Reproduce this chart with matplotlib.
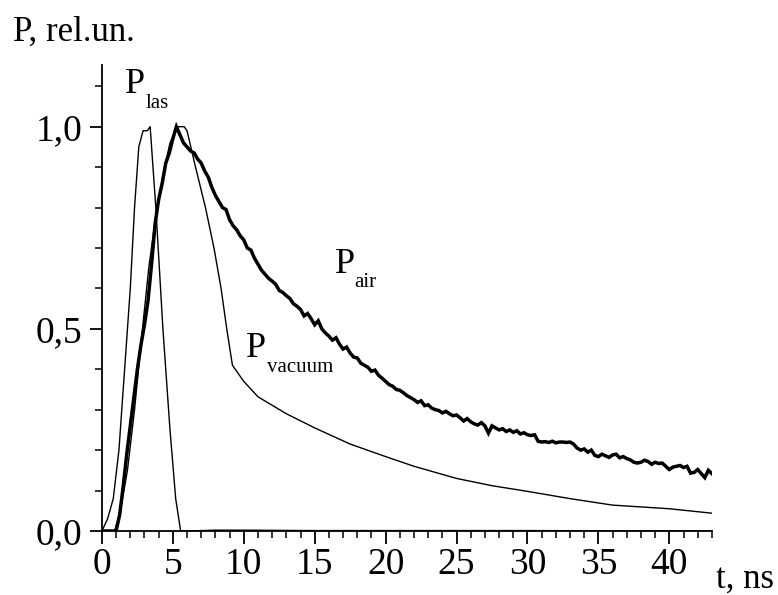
import numpy as np
import matplotlib
matplotlib.use("Agg")
import matplotlib.pyplot as plt
from matplotlib.ticker import MultipleLocator, FuncFormatter

plt.rcParams["font.family"] = ["Liberation Serif", "DejaVu Serif"]

# ---- data ----
# laser pulse
t_las = [0.0, 0.4, 0.8, 1.2, 1.6, 2.0, 2.3, 2.6, 2.9, 3.2, 3.4, 3.8, 4.3, 4.8, 5.2, 5.55,
         6.0, 8.0, 10.0, 15.0, 20.0, 30.0, 43.0]
p_las = [0.0, 0.03, 0.08, 0.2, 0.4, 0.6, 0.8, 0.95, 0.99, 0.99, 1.0, 0.8, 0.5, 0.25, 0.08, 0.0,
         0.0, 0.002, 0.002, 0.001, 0.001, 0.001, 0.0]

# emission in vacuum
t_vac = [0.9, 1.3, 1.8, 2.3, 2.8, 3.3, 3.8, 4.3, 4.8, 5.3, 5.8, 6.0, 6.6, 7.3, 7.9, 8.4, 8.8,
         9.2, 10.0, 11.0, 13.0, 15.0, 17.5, 20.0, 22.0, 25.0, 27.5, 30.0, 33.0, 36.0, 40.0, 43.0]
p_vac = [0.0, 0.05, 0.15, 0.3, 0.48, 0.65, 0.78, 0.88, 0.96, 1.0, 1.0, 0.99, 0.9, 0.8, 0.7, 0.6, 0.5,
         0.41, 0.37, 0.332, 0.29, 0.255, 0.215, 0.184, 0.16, 0.13, 0.112, 0.098, 0.08, 0.064, 0.055, 0.044]

# emission in air, sampled every 0.25 ns from 0
AIR_T0, AIR_DT = 0.0, 0.25
p_air = [
    0.0, 0.0, 0.0, 0.0,
    0.00, 0.04, 0.11, 0.19, 0.26, 0.33, 0.40, 0.46,
    0.51, 0.57, 0.66, 0.76, 0.82, 0.86, 0.91, 0.935,
    0.97, 1.00, 0.98, 0.96, 0.95, 0.94, 0.935, 0.92,
    0.91, 0.89, 0.875, 0.85, 0.83, 0.815, 0.80, 0.795,
    0.77, 0.755, 0.745, 0.73, 0.72, 0.70, 0.695, 0.675,
    0.66, 0.645, 0.635, 0.625, 0.618, 0.61, 0.595, 0.59,
    0.582, 0.575, 0.562, 0.556, 0.548, 0.532, 0.538, 0.525,
    0.51, 0.52, 0.50, 0.49, 0.482, 0.472, 0.478, 0.462,
    0.45, 0.455, 0.44, 0.43, 0.428, 0.415, 0.41, 0.405,
    0.395, 0.398, 0.385, 0.378, 0.37, 0.362, 0.358, 0.35,
    0.348, 0.342, 0.335, 0.33, 0.325, 0.318, 0.322, 0.31,
    0.312, 0.304, 0.30, 0.298, 0.292, 0.296, 0.29, 0.285,
    0.287, 0.28, 0.272, 0.278, 0.27, 0.265, 0.262, 0.268,
    0.26, 0.242, 0.26, 0.255, 0.25, 0.253, 0.246, 0.25,
    0.244, 0.248, 0.24, 0.243, 0.238, 0.236, 0.238, 0.222,
    0.22, 0.221, 0.219, 0.222, 0.218, 0.22, 0.22, 0.219,
    0.22, 0.215, 0.205, 0.20, 0.203, 0.195, 0.20, 0.187,
    0.184, 0.19, 0.186, 0.182, 0.188, 0.19, 0.181, 0.184,
    0.179, 0.176, 0.17, 0.168, 0.17, 0.175, 0.172, 0.165,
    0.17, 0.167, 0.168, 0.16, 0.152, 0.158, 0.16, 0.162,
    0.157, 0.16, 0.143, 0.145, 0.152, 0.142, 0.132, 0.15,
    0.142,
]
t_air = AIR_T0 + AIR_DT * np.arange(len(p_air))

fig = plt.figure(figsize=(7.78, 5.95), dpi=100)
ax = fig.add_axes([0.131, 0.1076, 0.784, 0.7834])

ax.plot(t_las, p_las, color="black", lw=1.0)
ax.plot(t_vac, p_vac, color="black", lw=1.0)
ax.plot(t_air, p_air, color="black", lw=2.5, solid_joinstyle="miter")

ax.set_xlim(0, 43)
ax.set_ylim(0, 1.153)
ax.spines["top"].set_visible(False)
ax.spines["right"].set_visible(False)
for s in ("left", "bottom"):
    ax.spines[s].set_linewidth(1.3)

ax.xaxis.set_major_locator(MultipleLocator(5))
ax.xaxis.set_minor_locator(MultipleLocator(1))
ax.yaxis.set_major_locator(MultipleLocator(0.5))
ax.yaxis.set_minor_locator(MultipleLocator(0.1))
ax.yaxis.set_major_formatter(FuncFormatter(lambda v, p: f"{v:.1f}".replace(".", ",")))
ax.tick_params(which="major", direction="out", length=9, width=1.3, labelsize=27)
ax.tick_params(which="minor", direction="out", length=5, width=1.1)
ax.tick_params(axis="x", pad=3)
ax.tick_params(axis="y", pad=5)

# curve labels
ax.text(1.62, 1.083, "P", fontsize=26, va="baseline")
ax.text(3.1, 1.046, "las", fontsize=15, va="baseline")
ax.text(16.44, 0.638, "P", fontsize=26, va="baseline")
ax.text(17.8, 0.603, "air", fontsize=15, va="baseline")
ax.text(10.16, 0.43, "P", fontsize=26, va="baseline")
ax.text(11.65, 0.394, "vacuum", fontsize=15, va="baseline")

# axis titles
fig.text(12.7 / 778, 1 - 40.7 / 595, "P, rel.un.", fontsize=25, va="baseline")
fig.text(716 / 778, 1 - 588 / 595, "t, ns", fontsize=25, va="baseline")

fig.savefig("out.png", dpi=100)
